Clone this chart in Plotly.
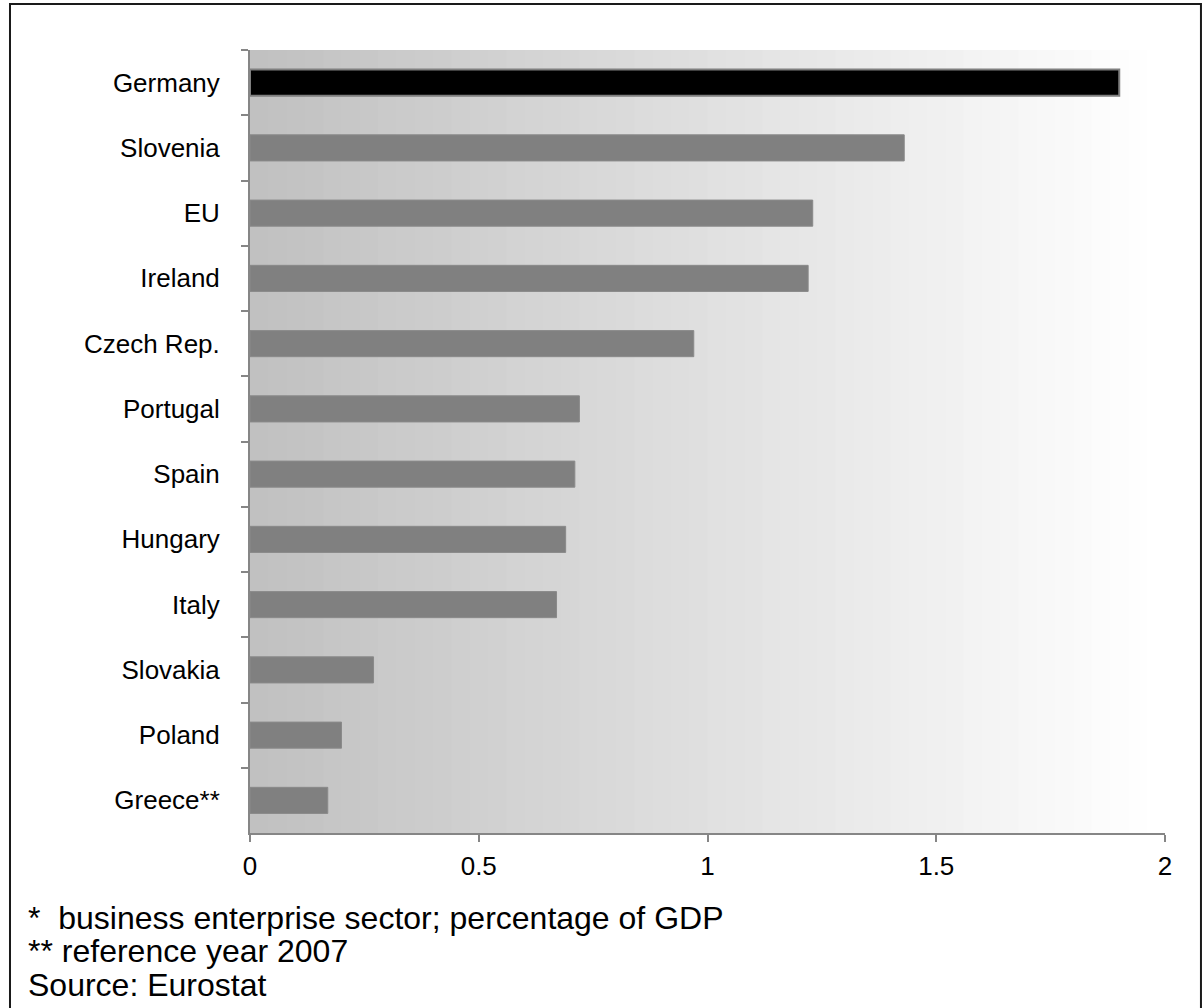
import plotly.graph_objects as go

countries = ["Germany", "Slovenia", "EU", "Ireland", "Czech Rep.", "Portugal",
             "Spain", "Hungary", "Italy", "Slovakia", "Poland", "Greece**"]
values = [1.90, 1.43, 1.23, 1.22, 0.97, 0.72, 0.71, 0.69, 0.67, 0.27, 0.20, 0.17]
highlight = "Germany"
x_ticks = [0, 0.5, 1, 1.5, 2]
x_tick_labels = ["0", "0.5", "1", "1.5", "2"]
footnotes = ["*\u00a0\u00a0business enterprise sector; percentage of GDP",
             "**\u00a0reference year 2007",
             "Source: Eurostat"]

FONT = "Liberation Sans, Arial, sans-serif"

bar_colors = ["#000000" if c == highlight else "#808080" for c in countries]
line_colors = ["#7f7f7f" if c == highlight else "#8a8a8a" for c in countries]
line_widths = [2 if c == highlight else 1 for c in countries]

fig = go.Figure(go.Bar(
    x=values, y=countries, orientation="h", width=0.4,
    marker=dict(color=bar_colors, line=dict(color=line_colors, width=line_widths)),
    hoverinfo="x+y",
))

# gradient plot background (stepped bands, slightly overlapping to hide seams)
shapes = []
N = 50
for i in range(N):
    t = (i + 0.5) / N
    g = int(round(192 + (255 - 192) * min(1.0, t * 1.02)))
    shapes.append(dict(type="rect", xref="paper", yref="paper",
                       x0=i / N, x1=min(1.0, (i + 1) / N + 0.004), y0=0, y1=1,
                       fillcolor=f"rgb({g},{g},{g})", line=dict(width=0), layer="below"))
# outer border
shapes.append(dict(type="rect", xref="paper", yref="paper",
                   x0=-0.2623, x1=1.0393, y0=-0.24, y1=1.0587,
                   line=dict(color="#1a1a1a", width=2), fillcolor="rgba(0,0,0,0)", layer="above"))

annotations = []
for i, txt in enumerate(footnotes):
    annotations.append(dict(text=txt, xref="paper", yref="paper",
                            x=-0.2437, y=-0.1080 - i * 0.0428,
                            xanchor="left", yanchor="middle", showarrow=False,
                            borderpad=0,
                            font=dict(family=FONT, size=32, color="#000000")))

fig.update_layout(
    width=1203, height=1008,
    margin=dict(l=250, r=38, t=50, b=175),
    paper_bgcolor="white", plot_bgcolor="white",
    showlegend=False,
    shapes=shapes, annotations=annotations,
    font=dict(family=FONT, size=26, color="#000000"),
    bargap=0.6,
)
fig.update_xaxes(range=[0, 2], tickvals=x_ticks, ticktext=x_tick_labels,
                 showgrid=False, zeroline=False, showline=True,
                 linecolor="#868686", linewidth=2, ticks="outside", ticklen=7,
                 tickcolor="#868686", tickwidth=2, ticklabelstandoff=2,
                 tickfont=dict(family=FONT, size=26, color="#000000"))
fig.update_yaxes(categoryorder="array", categoryarray=countries, autorange="reversed",
                 showgrid=False, zeroline=False, showline=True,
                 linecolor="#868686", linewidth=2, ticks="outside", ticklen=7,
                 tickcolor="#868686", tickwidth=2, tickson="boundaries",
                 ticklabelstandoff=23,
                 tickfont=dict(family=FONT, size=26, color="#000000"))

fig.write_html(
    "out.html",
    config={"displayModeBar": False},
    post_script="document.body.style.margin='0';document.body.style.overflow='hidden';",
)
